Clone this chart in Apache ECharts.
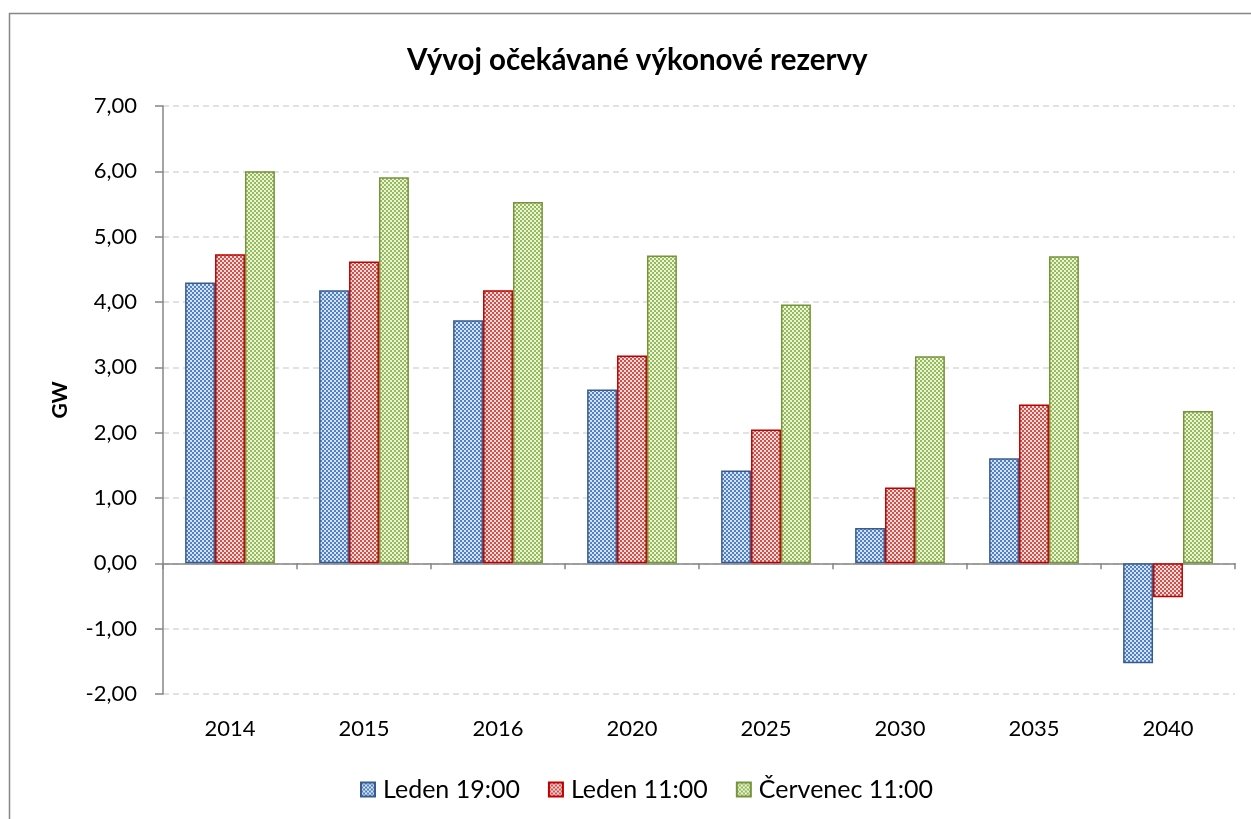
<!DOCTYPE html>
<html>
<head>
<meta charset="utf-8">
<script src="https://cdn.jsdelivr.net/npm/echarts@6/dist/echarts.min.js"></script>
<style>
  html, body { margin: 0; padding: 0; background: #fff; }
  #main { width: 1251px; height: 819px; }
</style>
</head>
<body>
<div id="main"></div>
<script>
const categories = ['2014', '2015', '2016', '2020', '2025', '2030', '2035', '2040'];
const seriesNames = ['Leden 19:00', 'Leden 11:00', 'Červenec 11:00'];
const leden19 = [4.30, 4.18, 3.72, 2.66, 1.42, 0.54, 1.61, -1.53];
const leden11 = [4.73, 4.62, 4.18, 3.18, 2.05, 1.16, 2.43, -0.52];
const cervenec11 = [6.00, 5.91, 5.53, 4.71, 3.96, 3.17, 4.70, 2.33];

// small checkered fill like the Excel pattern
function checker(dark, light) {
  const c = document.createElement('canvas');
  c.width = 4;
  c.height = 4;
  const ctx = c.getContext('2d');
  ctx.fillStyle = light;
  ctx.fillRect(0, 0, 4, 4);
  ctx.fillStyle = dark;
  ctx.fillRect(0, 0, 2, 2);
  ctx.fillRect(2, 2, 2, 2);
  return { image: c, repeat: 'repeat' };
}

const styles = [
  { fill: checker('#4f80c8', '#d6e3f4'), border: '#385d8a' },
  { fill: checker('#d0504c', '#f6dcdb'), border: '#c00000' },
  { fill: checker('#97bc55', '#ecf3df'), border: '#77933c' },
];

const font = 'Lato, "Open Sans", sans-serif';
const myChart = echarts.init(document.getElementById('main'));

myChart.setOption({
  animation: false,
  textStyle: { fontFamily: font },
  graphic: [
    {
      type: 'rect',
      shape: { x: 9.5, y: 13.5, width: 1260, height: 830 },
      style: { fill: 'none', stroke: '#868686', lineWidth: 1.5 },
      silent: true,
    },
  ],
  title: {
    text: 'Vývoj očekávané výkonové rezervy',
    left: 402,
    top: 40,
    textStyle: { fontSize: 29.5, fontWeight: 'bold', color: '#000', fontFamily: font },
  },
  legend: {
    top: 772,
    left: 355,
    icon: 'rect',
    itemWidth: 14,
    itemHeight: 14,
    itemGap: 28,
    textStyle: { fontSize: 25, color: '#000', fontFamily: font, padding: [0, 0, 0, 3] },
    data: seriesNames,
  },
  grid: { left: 163, right: 16, top: 106, bottom: 125 },
  xAxis: [
    {
      type: 'category',
      data: categories,
      position: 'bottom',
      axisLine: { show: false, onZero: false },
      axisTick: { show: false },
      axisLabel: { fontSize: 22, color: '#000', margin: 24, fontFamily: font },
    },
    {
      type: 'category',
      data: categories,
      position: 'bottom',
      axisLine: { show: true, onZero: true, lineStyle: { color: '#868686', width: 1.5 } },
      axisTick: { show: true, length: 6, alignWithLabel: false, lineStyle: { color: '#868686', width: 1.5 } },
      axisLabel: { show: false },
    },
  ],
  yAxis: {
    type: 'value',
    min: -2,
    max: 7,
    interval: 1,
    name: 'GW',
    nameLocation: 'middle',
    nameGap: 92,
    nameTextStyle: { fontSize: 21, fontWeight: 'bold', color: '#000', fontFamily: font },
    axisLine: { show: true, lineStyle: { color: '#868686', width: 1.5 } },
    axisTick: { show: true, length: 8, lineStyle: { color: '#868686', width: 1.5 } },
    axisLabel: {
      fontSize: 22,
      color: '#000',
      margin: 26,
      fontFamily: font,
      formatter: (v) => v.toFixed(2).replace('.', ','),
    },
    splitLine: { lineStyle: { color: '#d9d9d9', type: [6, 4], width: 1.5 } },
  },
  series: [leden19, leden11, cervenec11].map((data, i) => ({
    name: seriesNames[i],
    type: 'bar',
    xAxisIndex: 0,
    data: data,
    barGap: '0%',
    barCategoryGap: '33%',
    itemStyle: {
      color: styles[i].fill,
      borderColor: styles[i].border,
      borderWidth: 1.5,
    },
  })),
});
</script>
</body>
</html>
